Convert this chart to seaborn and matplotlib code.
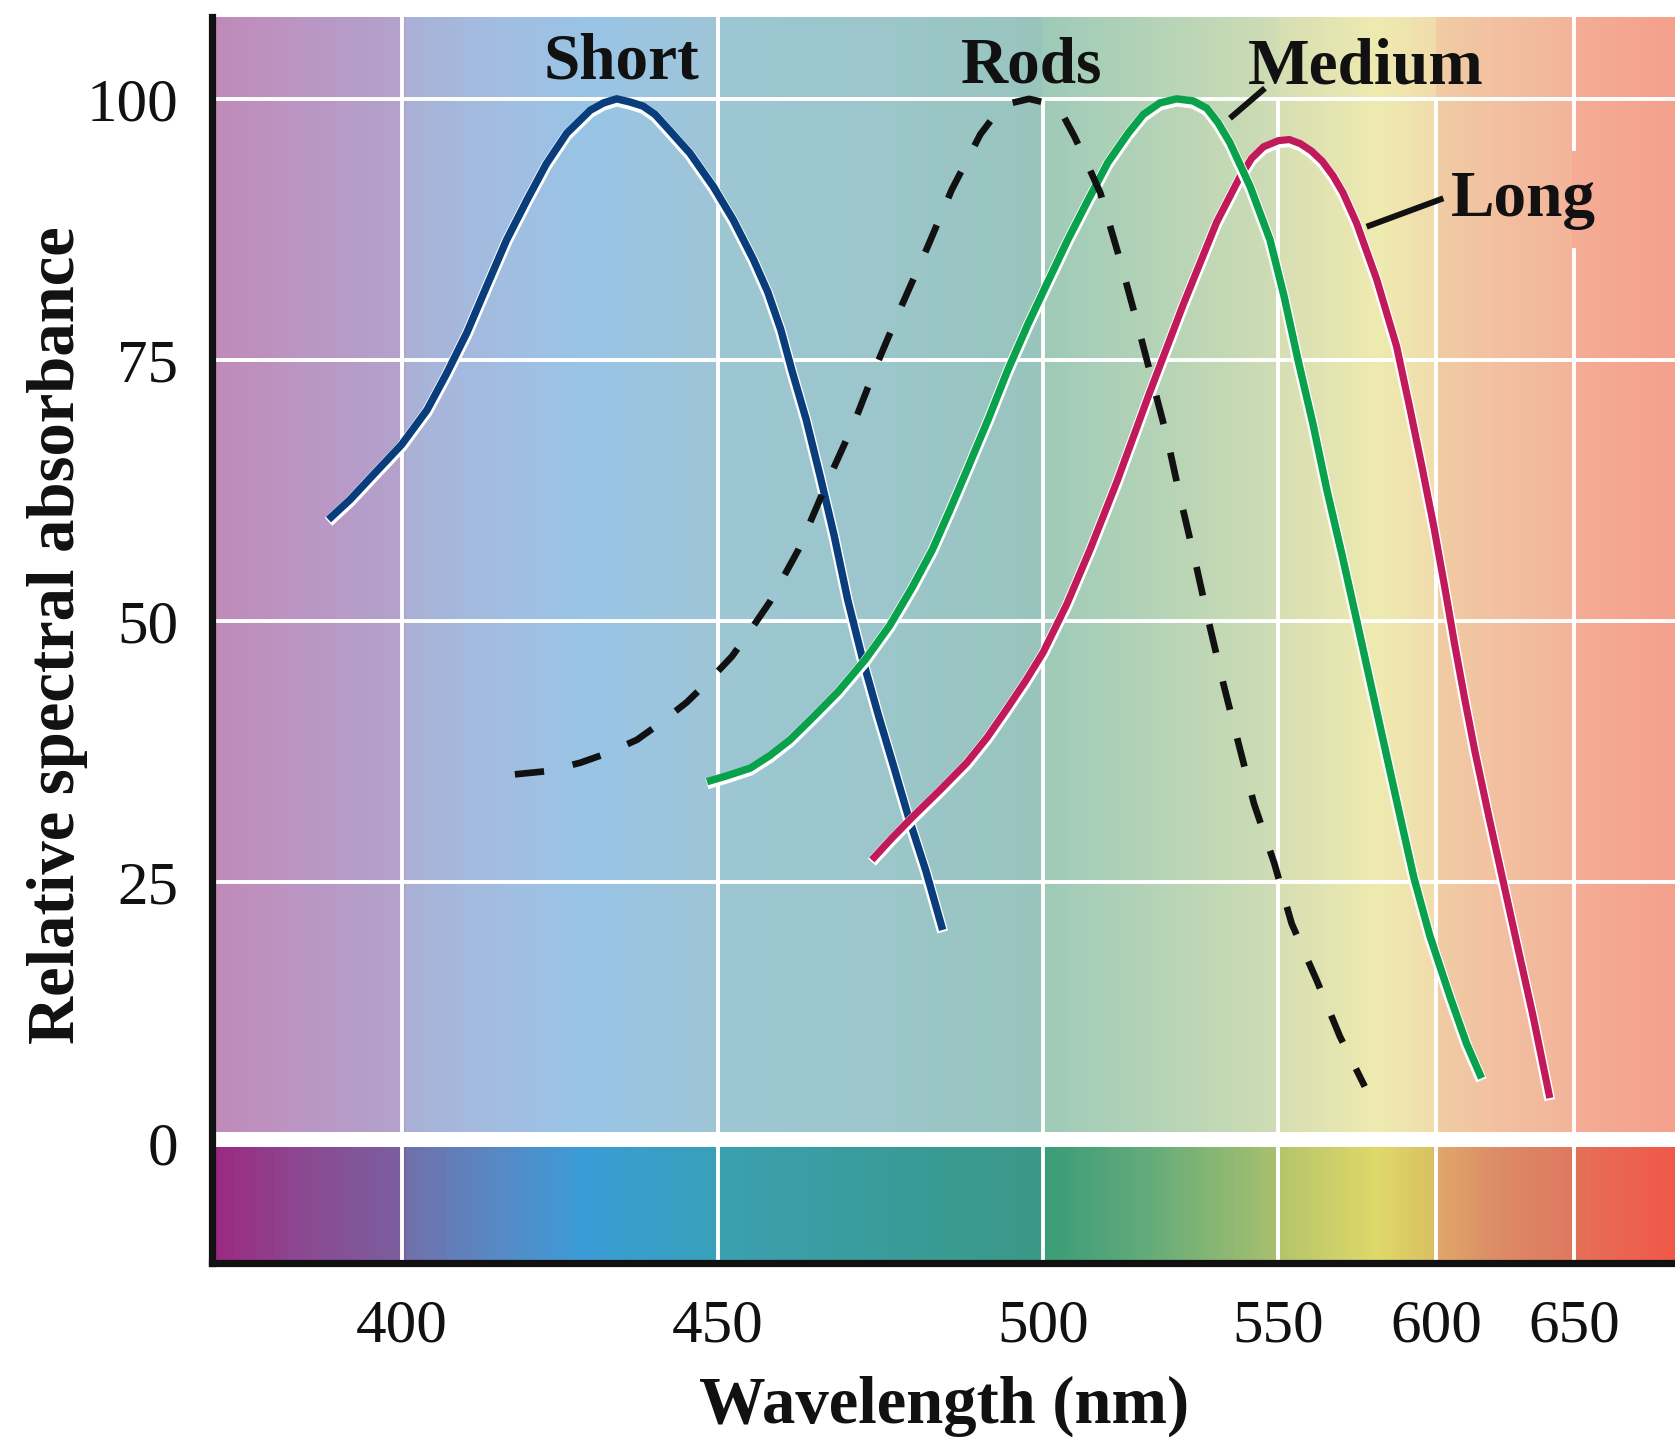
"""
Relative spectral absorbance of the three cone pigments and rhodopsin,
drawn over the visible spectrum.
"""

import numpy as np
import matplotlib
matplotlib.use("Agg")
import matplotlib.pyplot as plt
import matplotlib.patheffects as pe
from matplotlib.colors import LinearSegmentedColormap
import seaborn as sns

# ---- curves (wavelength in nm, absorbance in %) ----
short_nm = [388.4, 391.8, 395.5, 400.0, 404.0, 407.1, 410.3, 413.4, 416.6, 419.8,
            422.9, 426.1, 429.8, 431.9, 434.0, 436.1, 438.2, 440.1, 441.9, 445.6,
            449.3, 452.4, 455.5, 457.7, 459.7, 461.4, 463.6, 465.7, 467.9, 470.0,
            472.3, 474.7, 477.0, 479.4, 482.0, 484.6]
short_abs = [59.7, 61.6, 64.0, 66.9, 70.2, 73.7, 77.6, 82.0, 86.5, 90.3,
             93.8, 96.7, 98.9, 99.6, 100.0, 99.7, 99.3, 98.5, 97.3, 94.8,
             91.6, 88.4, 84.6, 81.5, 77.9, 74.0, 69.3, 64.0, 58.2, 52.0,
             46.3, 41.0, 36.2, 31.1, 26.1, 20.4]

rods_nm = [417.9, 422.9, 428.2, 432.4, 437.2, 440.9, 445.1, 448.5, 452.2, 454.7,
           458.0, 462.4, 467.0, 471.0, 474.5, 478.3, 482.2, 486.0, 490.4, 492.7,
           495.2, 497.9, 500.8, 504.2, 506.7, 509.3, 512.2, 516.3, 519.8, 523.0,
           526.3, 529.1, 532.3, 535.1, 538.3, 541.5, 544.8, 549.1, 554.2, 562.1,
           569.5, 577.4]
rods_abs = [35.3, 35.6, 36.4, 37.3, 38.6, 40.2, 42.2, 44.2, 46.6, 48.8,
            51.8, 56.8, 63.5, 69.0, 74.6, 80.2, 85.7, 91.3, 96.6, 98.5,
            99.6, 100.0, 99.6, 98.5, 96.4, 93.9, 91.0, 84.7, 78.9, 73.4,
            67.7, 61.9, 55.8, 50.1, 44.0, 38.3, 32.5, 26.8, 21.0, 15.6,
            10.2, 5.4]

medium_nm = [448.3, 451.6, 455.0, 458.0, 461.1, 464.7, 468.5, 472.7, 476.5, 479.9,
             483.0, 485.7, 488.5, 491.6, 494.6, 497.7, 501.1, 505.3, 509.6, 513.8,
             518.1, 521.3, 524.8, 528.4, 531.9, 534.8, 537.2, 539.7, 544.0, 548.2,
             551.7, 556.2, 561.0, 565.4, 570.2, 574.8, 579.7, 584.4, 588.9, 593.0,
             598.1, 605.1, 611.1, 616.5]
medium_abs = [34.6, 35.2, 35.9, 37.1, 38.6, 40.8, 43.2, 46.3, 49.6, 53.2,
              56.8, 60.6, 64.7, 69.3, 74.0, 78.4, 82.5, 86.5, 90.3, 93.9,
              96.7, 98.5, 99.6, 100.0, 99.8, 99.1, 97.7, 95.8, 91.6, 86.5,
              81.2, 75.0, 68.8, 62.5, 56.3, 50.1, 43.4, 37.0, 30.9, 25.4,
              19.8, 14.0, 9.5, 6.2]

long_nm = [473.7, 476.8, 480.1, 484.2, 488.3, 491.4, 494.4, 497.3, 500.1, 505.1,
           510.0, 515.7, 522.7, 529.8, 536.9, 541.8, 544.3, 546.8, 550.0, 553.5,
           557.0, 560.5, 564.0, 567.4, 570.5, 574.8, 581.2, 587.5, 591.7, 595.6,
           599.4, 603.2, 606.8, 610.5, 614.1, 619.1, 624.2, 629.3, 635.1, 641.2]
long_abs = [27.1, 29.2, 31.3, 33.8, 36.4, 38.8, 41.5, 44.2, 47.0, 51.6,
            56.8, 63.3, 71.9, 80.3, 88.2, 92.5, 94.3, 95.4, 96.0, 96.1,
            95.7, 95.0, 94.0, 92.6, 91.0, 88.1, 82.7, 76.3, 70.4, 64.7,
            58.9, 53.2, 47.7, 42.4, 37.5, 31.3, 25.2, 19.1, 12.2, 4.3]

x_ticks = [400, 450, 500, 550, 600, 650]
y_ticks = [0, 25, 50, 75, 100]
grid_y = [25, 50, 75, 100]

# The wavelength axis of the original is stretched by hand, not linear:
# these knots put every labelled wavelength where it sits on the page.
AXIS_NM = [350, 400, 450, 500, 550, 600, 650, 700]
AXIS_POS = [85.7, 401.7, 717.7, 1042.8, 1278.5, 1436.0, 1574.2, 1712.4]

# Background colour ramps (wavelength, colour)
PALE_SPECTRUM = [
    (369.8, "#c08ab8"), (385.0, "#ba96c4"), (399.6, "#b2a2cc"), (400.4, "#aab0d6"),
    (414.0, "#a2bce0"), (429.0, "#98c4e6"), (449.6, "#9ec4d6"), (450.4, "#9cc6d2"),
    (472.6, "#9cc6cc"), (499.6, "#98c4bc"), (500.4, "#9ecab8"), (521.6, "#b2d2b6"),
    (549.6, "#cedcb4"), (550.4, "#d6deb2"), (581.6, "#eeeab0"), (599.6, "#f0dcac"),
    (600.4, "#f0cca4"), (622.5, "#f2c0a0"), (649.6, "#f2b49a"), (650.4, "#f4ac94"),
    (686.5, "#f4a08c"),
]
FULL_SPECTRUM = [
    (369.8, "#9a2880"), (384.6, "#8a4a92"), (399.6, "#7a5e9e"), (400.4, "#7070aa"),
    (414.1, "#5888c4"), (428.9, "#3a9cd6"), (449.6, "#38a0b8"), (450.4, "#3aa0b0"),
    (472.6, "#399c9c"), (499.6, "#3a9886"), (500.4, "#3a9c78"), (521.6, "#62aa7a"),
    (549.6, "#a8c06e"), (550.4, "#b4c46a"), (581.6, "#e0d86a"), (599.6, "#d8c060"),
    (600.4, "#e0a86a"), (622.5, "#dc8c66"), (649.6, "#de7860"), (650.4, "#e47058"),
    (686.5, "#f05848"),
]

BLUE = "#0a3d7c"
GREEN = "#0aa14c"
MAGENTA = "#c01a5a"
INK = "#111111"

X_MIN, X_MAX = 369.9, 686.5
Y_MIN, Y_MAX = -11.46, 107.8


def to_pos(nm):
    return np.interp(nm, AXIS_NM, AXIS_POS)


def to_nm(pos):
    return np.interp(pos, AXIS_POS, AXIS_NM)


def spectrum_band(ax, stops, y0, y1):
    nm = [s[0] for s in stops]
    lo, hi = nm[0], nm[-1]
    cmap = LinearSegmentedColormap.from_list(
        "band", [((s[0] - lo) / (hi - lo), s[1]) for s in stops])
    edges = np.linspace(lo, hi, 700)
    centers = (edges[:-1] + edges[1:]) / 2
    ax.pcolormesh(edges, [y0, y1], centers[None, :], cmap=cmap,
                  vmin=lo, vmax=hi, shading="flat", zorder=0)


sns.set_theme(style="white")
plt.rcParams["font.family"] = ["Liberation Serif", "DejaVu Serif"]

fig = plt.figure(figsize=(16.75, 14.37), dpi=100)
ax = fig.add_axes([0.1263, 0.1214, 0.8737, 0.8665])
ax.set_xscale("function", functions=(to_pos, to_nm))
ax.set_xlim(X_MIN, X_MAX)
ax.set_ylim(Y_MIN, Y_MAX)

# backgrounds: pale spectrum behind the curves, saturated strip below zero
spectrum_band(ax, PALE_SPECTRUM, 1.0, Y_MAX)
spectrum_band(ax, FULL_SPECTRUM, Y_MIN, -0.4)
ax.axhspan(-0.4, 1.0, color="white", lw=0, zorder=0.5)

# white grid; the label gaps of the original are kept
grid_kw = dict(color="white", lw=2.8, zorder=1)
ax.hlines(grid_y, X_MIN, X_MAX, **grid_kw)
for nm in x_ticks:
    if nm in (500, 550, 600):
        ax.vlines(nm, Y_MIN, 100, **grid_kw)
    elif nm == 650:
        ax.vlines(nm, Y_MIN, 85.7, **grid_kw)
        ax.vlines(nm, 95.0, Y_MAX, **grid_kw)
    else:
        ax.vlines(nm, Y_MIN, Y_MAX, **grid_kw)


def halo(lw):
    # thin white edge, heavier on the lower side, as in the printed figure
    return [pe.Stroke(linewidth=lw + 2.6, foreground="white", offset=(0, -1.5)),
            pe.Normal()]


line_kw = dict(ax=ax, estimator=None, solid_joinstyle="round",
               solid_capstyle="butt")
sns.lineplot(x=short_nm, y=short_abs, color=BLUE, lw=5.4,
             path_effects=halo(5.4), zorder=3, **line_kw)
sns.lineplot(x=long_nm, y=long_abs, color=MAGENTA, lw=5.2,
             path_effects=halo(5.2), zorder=3.1, **line_kw)
sns.lineplot(x=medium_nm, y=medium_abs, color=GREEN, lw=5.4,
             path_effects=halo(5.4), zorder=3.2, **line_kw)
sns.lineplot(x=rods_nm, y=rods_abs, ax=ax, color=INK, lw=4.8, estimator=None,
             linestyle=(0, (4.4, 4.4)), zorder=3.3)

# curve names and leader lines
label_kw = dict(fontsize=47, fontweight="bold", ha="center", va="baseline",
                color=INK, transform=ax.transAxes, zorder=5)
ax.text(0.2800, 0.9513, "Short", **label_kw)
ax.text(0.5605, 0.9476, "Rods", **label_kw)
ax.text(0.7888, 0.9468, "Medium", **label_kw)
ax.text(0.8963, 0.8407, "Long", **label_kw)
ax.plot([0.6959, 0.7198], [0.9190, 0.9431], transform=ax.transAxes,
        color=INK, lw=4.3, solid_capstyle="butt", zorder=5)
ax.plot([0.7893, 0.8417], [0.8319, 0.8547], transform=ax.transAxes,
        color=INK, lw=4.3, solid_capstyle="butt", zorder=5)

# axes
ax.set_xticks(x_ticks)
ax.set_xticklabels([str(t) for t in x_ticks])
ax.set_yticks(y_ticks)
ax.set_yticklabels([str(t) for t in y_ticks])
ax.tick_params(axis="both", length=0, labelsize=44, labelcolor=INK)
ax.tick_params(axis="x", pad=26)
ax.tick_params(axis="y", pad=24)
ax.minorticks_off()

ax.set_xlabel("Wavelength (nm)", fontsize=48, fontweight="bold", color=INK)
ax.set_ylabel("Relative spectral absorbance", fontsize=48, fontweight="bold", color=INK)
ax.xaxis.set_label_coords(0.5005, -0.0905)
ax.yaxis.set_label_coords(-0.0845, 0.5035)

for side in ("top", "right"):
    ax.spines[side].set_visible(False)
for side in ("left", "bottom"):
    ax.spines[side].set_color(INK)
    ax.spines[side].set_linewidth(5.2)
    ax.spines[side].set_zorder(6)

fig.savefig("out.png", dpi=100)
plt.close(fig)
